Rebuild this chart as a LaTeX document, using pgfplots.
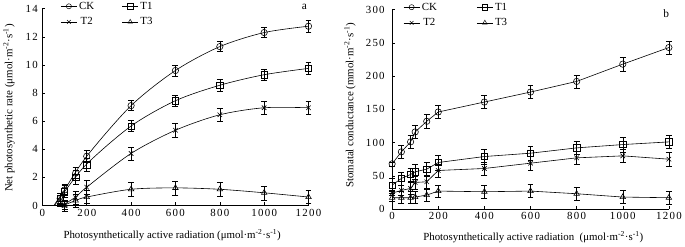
\documentclass[border=0pt]{standalone}
\usepackage{fontspec}
\setmainfont{Liberation Serif}
\newfontfamily\tickfont[LetterSpace=12]{Liberation Serif}
\usepackage{pgfplots}
\pgfplotsset{compat=1.18}
\begin{document}
\begin{tikzpicture}
\pgfplotsset{
  myax/.style={
    scale only axis,
    axis x line=bottom, axis y line=left,
    x axis line style={-}, y axis line style={-},
    tick align=inside, major tick length=3bp,
    tick style={black, line width=0.5pt},
    axis line style={black, line width=0.6pt},
    /pgf/number format/assume math mode=true,
    /pgf/number format/1000 sep={},
    tick label style={font=\tickfont\fontsize{11}{12}\selectfont},
    yticklabel style={xshift=-1bp},
    label style={font=\fontsize{11}{12}\selectfont},
    clip=false,
    xmin=0, xmax=1200, xtick={0,200,...,1200},
    legend style={draw=none, fill=none, font=\fontsize{11}{12}\selectfont, anchor=north west,
      /tikz/every even column/.append style={column sep=26bp}, row sep=3bp, inner sep=0pt},
    legend columns=2,
    legend image code/.code={\draw[mark size=2.6bp, mark repeat=2, mark phase=2, mark options={fill=white, line width=0.5pt}] plot coordinates {(0bp,0bp) (8bp,0bp) (16bp,0bp)};},
    every axis plot/.append style={black, line width=0.6pt},
  },
  eb/.style={only marks, mark size=3.2bp, mark options={fill=white, solid},
    error bars/y dir=both, error bars/y explicit,
    error bars/error mark options={rotate=90, mark size=3bp, black, line width=0.5pt},
    error bars/error bar style={black, line width=0.5pt}},
}
\path (0bp,0bp) rectangle (685bp,244bp);
% ---------- panel a ----------
\begin{axis}[myax, at={(41.7bp,38.3bp)}, anchor=origin, width=268.3bp, height=198.4bp,
  ymin=0, ymax=14, ytick={0,2,...,14},
  xlabel={Photosynthetically active radiation (μmol·m\textsuperscript{-2}·s\textsuperscript{-1})},
  ylabel={Net photosynthetic rate (μmol·m\textsuperscript{-2}·s\textsuperscript{-1})},
  xlabel style={at={(axis description cs:0.4875,-0.153)}, anchor=center},
  ylabel style={at={(axis description cs:-0.1256,0.495)}, anchor=center},
  legend style={at={(axis description cs:0.068,1.045)}},
]
\addlegendimage{black, mark=o}\addlegendentry{CK}
\addlegendimage{black, mark=square}\addlegendentry{T1}
\addlegendimage{black, mark=x}\addlegendentry{T2}
\addlegendimage{black, mark=triangle}\addlegendentry{T3}
% fitted curves
\addplot[smooth, forget plot] coordinates {(52,0)(100,1.12)(200,3.5)(400,7.1)(600,9.6)(800,11.3)(1000,12.3)(1200,12.75)};
\addplot[smooth, forget plot] coordinates {(55,0)(100,0.98)(200,2.95)(400,5.65)(600,7.45)(800,8.55)(1000,9.3)(1200,9.75)};
\addplot[smooth, forget plot] coordinates {(90,0)(150,0.6)(200,1.3)(400,3.7)(600,5.35)(800,6.45)(1000,6.95)(1200,6.95)};
\addplot[smooth, forget plot] coordinates {(95,0)(150,0.35)(200,0.6)(400,1.15)(600,1.25)(800,1.15)(1000,0.9)(1200,0.6)};
% data points
\addplot[eb, mark=o, forget plot] coordinates {
 (80,0.5) +- (0,0.35) (100,1.1) +- (0,0.4) (150,2.3) +- (0,0.4) (200,3.5) +- (0,0.4)
 (400,7.1) +- (0,0.35) (600,9.6) +- (0,0.4) (800,11.3) +- (0,0.35) (1000,12.3) +- (0,0.35) (1200,12.75) +- (0,0.4)};
\addplot[eb, mark=square, forget plot] coordinates {
 (80,0.5) +- (0,0.4) (100,1.0) +- (0,0.45) (150,2.0) +- (0,0.5) (200,2.9) +- (0,0.45)
 (400,5.65) +- (0,0.4) (600,7.45) +- (0,0.4) (800,8.55) +- (0,0.45) (1000,9.3) +- (0,0.4) (1200,9.75) +- (0,0.45)};
\addplot[eb, mark=x, forget plot] coordinates {
 (80,0.35) +- (0,0.4) (100,0.0) +- (0,0.4) (150,0.55) +- (0,0.45) (200,1.3) +- (0,0.5)
 (400,3.7) +- (0,0.45) (600,5.35) +- (0,0.5) (800,6.45) +- (0,0.45) (1000,6.95) +- (0,0.45) (1200,6.95) +- (0,0.45)};
\addplot[eb, mark=triangle, forget plot] coordinates {
 (100,0.0) +- (0,0.3) (150,0.35) +- (0,0.45) (200,0.6) +- (0,0.45)
 (400,1.15) +- (0,0.5) (600,1.25) +- (0,0.5) (800,1.15) +- (0,0.5) (1000,0.9) +- (0,0.5) (1200,0.6) +- (0,0.45)};
\node[font=\fontsize{11.5}{12}\selectfont, anchor=north] at (axis description cs:0.985,1.04) {a};
\end{axis}
% ---------- panel b ----------
\begin{axis}[myax, at={(394.3bp,34.7bp)}, anchor=origin, width=279bp, height=201bp,
  ymin=0, ymax=300, ytick={0,50,...,300},
  xlabel={Photosynthetically active radiation\ \ (μmol·m\textsuperscript{-2}·s\textsuperscript{-1})},
  ylabel={Stomatal conductance (mmol·m\textsuperscript{-2}·s\textsuperscript{-1})},
  xlabel style={at={(axis description cs:0.51,-0.143)}, anchor=center},
  ylabel style={at={(axis description cs:-0.152,0.52)}, anchor=center},
  yticklabel style={xshift=-3bp},
  legend style={at={(axis description cs:0.04,1.045)}},
  legend style={/tikz/every even column/.append style={column sep=38bp}},
]
\addlegendimage{black, mark=o}\addlegendentry{CK}
\addlegendimage{black, mark=square}\addlegendentry{T1}
\addlegendimage{black, mark=x}\addlegendentry{T2}
\addlegendimage{black, mark=triangle}\addlegendentry{T3}
\addplot[eb, sharp plot, mark=o, forget plot] coordinates {
 (0,68) +- (0,3) (40,86) +- (0,10) (80,101) +- (0,10) (100,116) +- (0,10) (150,132) +- (0,10) (200,146) +- (0,10)
 (400,161) +- (0,10) (600,176) +- (0,10) (800,192) +- (0,10) (1000,218) +- (0,10) (1200,243) +- (0,10)};
\addplot[eb, sharp plot, mark=square, forget plot] coordinates {
 (0,36) +- (0,10) (40,46) +- (0,10) (80,52) +- (0,10) (100,56) +- (0,11) (150,60) +- (0,11) (200,70) +- (0,11)
 (400,79) +- (0,11) (600,84) +- (0,10) (800,92) +- (0,10) (1000,97) +- (0,11) (1200,101) +- (0,10)};
\addplot[eb, sharp plot, mark=x, forget plot] coordinates {
 (0,24) +- (0,4) (40,28) +- (0,8) (80,31) +- (0,9) (100,40) +- (0,10) (150,41) +- (0,10) (200,58) +- (0,10)
 (400,61) +- (0,10) (600,69) +- (0,10) (800,77) +- (0,10) (1000,80) +- (0,10) (1200,75) +- (0,10)};
\addplot[eb, sharp plot, mark=triangle, forget plot] coordinates {
 (0,17) +- (0,6) (40,17) +- (0,9) (80,17) +- (0,9) (100,18) +- (0,9) (150,21) +- (0,9) (200,27) +- (0,9)
 (400,26) +- (0,10) (600,27) +- (0,10) (800,23) +- (0,10) (1000,18) +- (0,10) (1200,17) +- (0,10)};
\node[font=\fontsize{11.5}{12}\selectfont, anchor=north] at (axis description cs:0.99,1.02) {b};
\end{axis}
\end{tikzpicture}
\end{document}
